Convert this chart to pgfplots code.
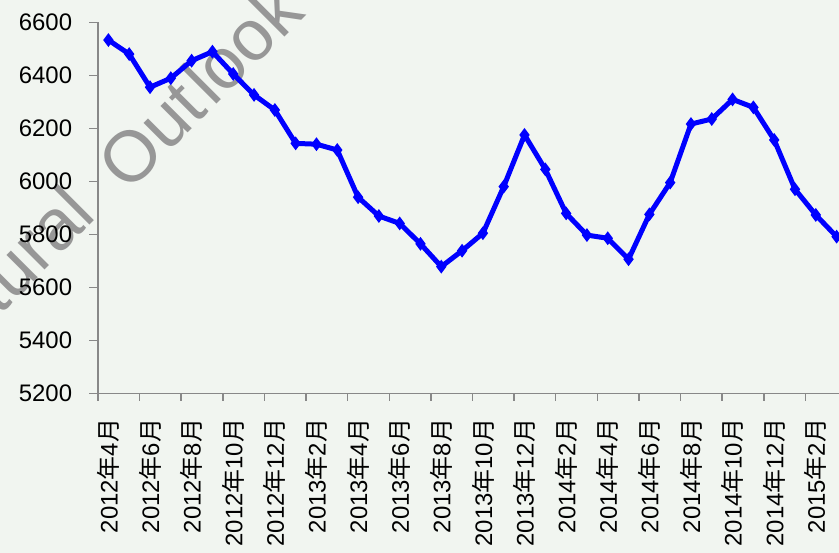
\documentclass[border=0pt]{standalone}
\usepackage{pgfplots}
\pgfplotsset{compat=1.18}
\usepackage{fontspec}
\setmainfont{Liberation Sans}
\newfontfamily\cjk{Noto Sans CJK SC}
\definecolor{bg}{HTML}{F1F5F0}
\definecolor{axgray}{HTML}{888888}
\definecolor{wm}{HTML}{979797}
\newcommand\ym[2]{#1{\cjk 年}#2{\cjk 月}}
\begin{document}
\begin{tikzpicture}[x=1bp,y=1bp]
\useasboundingbox (-98,-159.7) rectangle (741,393.3);
\fill[bg] (-98,-159.7) rectangle (741,393.3);
\clip (-98,-159.7) rectangle (741,393.3);
\node[rotate=45, anchor=base east, inner sep=0pt, text=wm, font=\fontsize{72}{80}\selectfont] at (0,176) {Agricultural};
\node[rotate=45, anchor=base west, inner sep=0pt, text=wm, font=\fontsize{72}{80}\selectfont] at (30,200) {Out\hspace{5bp}look};
\begin{axis}[
  at={(0,0)}, anchor=south west,
  scale only axis, width=749bp, height=371bp,
  xmin=-0.5, xmax=35.5, ymin=5200, ymax=6600,
  axis x line=bottom, axis y line=left,
  axis line style={draw=axgray, line width=1.5bp, -},
  tick align=outside,
  ytick={5200,5400,...,6600},
  xtick={0,2,...,34},
  xticklabels={\ym{2012}{4},\ym{2012}{6},\ym{2012}{8},\ym{2012}{10},\ym{2012}{12},
    \ym{2013}{2},\ym{2013}{4},\ym{2013}{6},\ym{2013}{8},\ym{2013}{10},\ym{2013}{12},
    \ym{2014}{2},\ym{2014}{4},\ym{2014}{6},\ym{2014}{8},\ym{2014}{10},\ym{2014}{12},
    \ym{2015}{2}},
  minor xtick={-0.5,1.5,...,35.5},
  every major x tick/.style={draw=none},
  every minor x tick/.style={draw=axgray, line width=1.5bp},
  every major y tick/.style={draw=axgray, line width=1.5bp},
  major tick length=8.7bp, minor tick length=7.3bp,
  /pgf/number format/assume math mode=true,
  /pgf/number format/set thousands separator={},
  tick label style={font=\fontsize{24}{28}\selectfont, inner sep=0pt},
  yticklabel shift=17bp,
  xticklabel style={rotate=90, anchor=east},
  xticklabel shift=16.7bp,
  clip=false,
]
\addplot[color=blue, line width=5bp, mark=diamond*, mark size=2.8bp, mark options={solid}] coordinates {
(0,6533) (1,6480) (2,6355) (3,6389) (4,6455) (5,6489) (6,6405) (7,6326)
(8,6269) (9,6143) (10,6140) (11,6118) (12,5940) (13,5869) (14,5841) (15,5764)
(16,5678) (17,5738) (18,5804) (19,5980) (20,6175) (21,6045) (22,5879) (23,5797)
(24,5785) (25,5706) (26,5875) (27,5995) (28,6216) (29,6235) (30,6309) (31,6279)
(32,6156) (33,5970) (34,5873) (35,5791)
};
\end{axis}
\end{tikzpicture}
\end{document}
